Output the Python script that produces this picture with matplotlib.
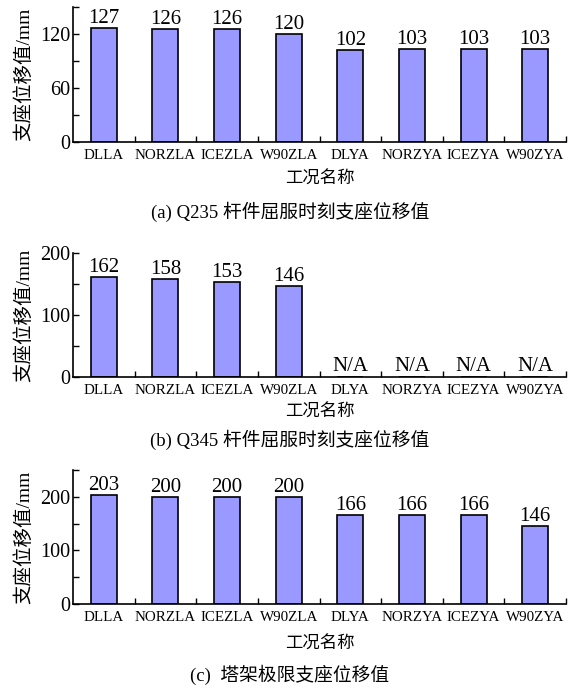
import numpy as np
import matplotlib
matplotlib.use("Agg")
import matplotlib.pyplot as plt
from matplotlib.ticker import MultipleLocator, FixedLocator

plt.rcParams['font.family'] = ['Liberation Serif', 'Noto Sans CJK SC']
plt.rcParams['axes.unicode_minus'] = False

# data
cases = ['DLLA', 'NORZLA', 'ICEZLA', 'W90ZLA', 'DLYA', 'NORZYA', 'ICEZYA', 'W90ZYA']
q235_disp = [127, 126, 126, 120, 102, 103, 103, 103]
q345_disp = [162, 158, 153, 146, None, None, None, None]
limit_disp = [203, 200, 200, 200, 166, 166, 166, 146]

ylabel = '支座位移值/mm'
xlabel = '工况名称'
captions = ['(a) Q235 杆件屈服时刻支座位移值',
            '(b) Q345 杆件屈服时刻支座位移值',
            '(c)  塔架极限支座位移值']

bar_color = '#9999ff'

fig = plt.figure(figsize=(5.8, 6.91), dpi=100)
W, H = 580.0, 691.0

# panel boxes in pixels: (top, bottom)
boxes = [(7, 142), (253, 377), (470, 604)]
ymaxes = [150, 200, 250]
majors = [60, 100, 100]
minors = [30, 50, 50]
series = [q235_disp, q345_disp, limit_disp]
cap_y = [212, 440, 675]
xl_y = [180, 413, 645]

x = np.arange(len(cases))
for i in range(3):
    top, bot = boxes[i]
    ax = fig.add_axes([73 / W, 1 - bot / H, (566 - 73) / W, (bot - top) / H])
    vals = series[i]
    heights = [v if v is not None else 0 for v in vals]
    ax.bar(x, heights, width=0.42, color=bar_color, edgecolor='black', linewidth=1.2)
    for xi, v in zip(x, vals):
        lab = str(v) if v is not None else 'N/A'
        yv = v if v is not None else 0
        ax.annotate(lab, (xi, yv), xytext=(0, 0 if v is not None else 1),
                    textcoords='offset points', ha='center', va='bottom', fontsize=15)
    ax.set_xlim(-0.5, 7.5)
    ax.set_ylim(0, ymaxes[i])
    ax.spines['top'].set_visible(False)
    ax.spines['right'].set_visible(False)
    for s in ['left', 'bottom']:
        ax.spines[s].set_linewidth(1.2)
    ax.yaxis.set_major_locator(MultipleLocator(majors[i]))
    ax.yaxis.set_minor_locator(MultipleLocator(minors[i]))
    ax.tick_params(axis='y', which='both', direction='in', length=4, width=1, labelsize=14.5, pad=2)
    ax.set_xticks(x)
    ax.set_xticklabels(cases)
    ax.xaxis.set_minor_locator(FixedLocator(np.arange(0.5, 8, 1)))
    ax.tick_params(axis='x', which='major', length=0, labelsize=10.8, pad=5)
    ax.tick_params(axis='x', which='minor', direction='in', length=4, width=1)
    ax.set_ylabel(ylabel, fontsize=14, labelpad=5)
    fig.text(320 / W, 1 - xl_y[i] / H, xlabel, ha='center', va='center', fontsize=12.5)
    fig.text(290 / W, 1 - cap_y[i] / H, captions[i], ha='center', va='center', fontsize=13.5)

fig.savefig('out.png', dpi=100)
